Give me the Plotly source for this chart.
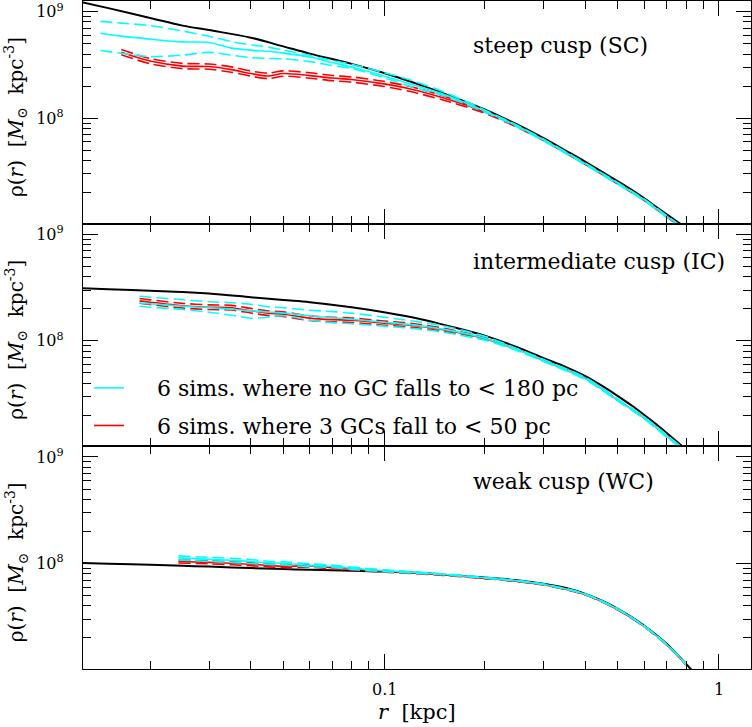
import numpy as np
import plotly.graph_objects as go
from plotly.subplots import make_subplots

FONT = "DejaVu Serif"
CYAN = "#00FFFF"
RED = "#FF0000"

# model profiles (black), log10 rho
r_model = [0.0126, 0.015, 0.02, 0.025, 0.03, 0.04, 0.05, 0.06, 0.08, 0.1, 0.13,
           0.16, 0.2, 0.25, 0.3, 0.35, 0.4, 0.45, 0.5, 0.55, 0.6, 0.65, 0.7, 0.75, 0.8, 0.85]
sc_black = [9.087, 9.033, 8.941, 8.869, 8.827, 8.756, 8.674, 8.606, 8.510, 8.424, 8.306,
            8.203, 8.082, 7.941, 7.812, 7.694, 7.590, 7.493, 7.407, 7.327, 7.247, 7.168,
            7.097, 7.032, 6.971, 6.913]
ic_black = [8.494, 8.485, 8.470, 8.459, 8.444, 8.410, 8.383, 8.363, 8.316, 8.269, 8.201,
            8.130, 8.049, 7.941, 7.838, 7.754, 7.669, 7.575, 7.482, 7.393, 7.304, 7.219,
            7.135, 7.055, 6.980, 6.915]
wc_black = [8.004, 7.997, 7.988, 7.978, 7.971, 7.957, 7.948, 7.941, 7.932, 7.925, 7.910,
            7.889, 7.868, 7.843, 7.810, 7.770, 7.715, 7.649, 7.575, 7.497, 7.415, 7.331,
            7.246, 7.150, 7.058, 6.965]

# steep cusp sims
r_sc = [0.0142, 0.0164, 0.02, 0.025, 0.03, 0.035, 0.04, 0.045, 0.05, 0.06, 0.07, 0.08,
        0.1, 0.12, 0.15, 0.2, 0.25, 0.3, 0.4, 0.5, 0.6, 0.7, 0.77]
sc_cyan_mean = [8.797, 8.770, 8.742, 8.716, 8.711, 8.658, 8.639, 8.628, 8.611, 8.574, 8.522, 8.480,
                8.397, 8.321, 8.227, 8.068, 7.927, 7.796, 7.571, 7.388, 7.233, 7.079, 6.985]
sc_cyan_hi = [8.909, 8.892, 8.869, 8.818, 8.769, 8.719, 8.688, 8.667, 8.641, 8.588, 8.541, 8.505,
              8.428, 8.358, 8.250, 8.077, 7.933, 7.802, 7.577, 7.394, 7.239, 7.085, 6.991]
sc_cyan_lo = [8.635, 8.609, 8.578, 8.592, 8.618, 8.592, 8.569, 8.561, 8.557, 8.531, 8.494, 8.466,
              8.381, 8.297, 8.213, 8.058, 7.918, 7.787, 7.562, 7.379, 7.224, 7.070, 6.976]
r_sc_red = [0.0164, 0.02, 0.025, 0.03, 0.035, 0.04, 0.045, 0.05, 0.06, 0.07, 0.08,
            0.1, 0.12, 0.15, 0.2, 0.25, 0.3, 0.4, 0.5, 0.6, 0.7, 0.77]
sc_red_mean = [8.619, 8.536, 8.489, 8.485, 8.456, 8.419, 8.396, 8.419, 8.400, 8.377, 8.363,
               8.322, 8.274, 8.191, 8.058, 7.922, 7.793, 7.568, 7.385, 7.230, 7.076, 6.982]
sc_red_hi = [8.645, 8.560, 8.515, 8.508, 8.482, 8.443, 8.423, 8.444, 8.426, 8.401, 8.388,
             8.346, 8.297, 8.210, 8.068, 7.928, 7.797, 7.571, 7.388, 7.233, 7.079, 6.985]
sc_red_lo = [8.596, 8.511, 8.465, 8.460, 8.431, 8.395, 8.371, 8.394, 8.375, 8.352, 8.338,
             8.298, 8.250, 8.171, 8.047, 7.915, 7.789, 7.565, 7.382, 7.227, 7.073, 6.979]

# intermediate cusp sims
r_ic = [0.0186, 0.02, 0.025, 0.03, 0.035, 0.04, 0.045, 0.05, 0.06, 0.07, 0.08,
        0.1, 0.12, 0.15, 0.2, 0.25, 0.3, 0.4, 0.5, 0.6, 0.7, 0.77]
ic_cyan_mean = [8.356, 8.349, 8.325, 8.311, 8.297, 8.283, 8.271, 8.262, 8.236, 8.217, 8.203,
                8.175, 8.152, 8.110, 8.025, 7.918, 7.814, 7.646, 7.444, 7.276, 7.107, 7.004]
ic_cyan_hi = [8.419, 8.410, 8.386, 8.367, 8.358, 8.344, 8.321, 8.311, 8.288, 8.274, 8.260,
              8.222, 8.189, 8.142, 8.044, 7.927, 7.824, 7.655, 7.454, 7.285, 7.116, 7.013]
ic_cyan_lo = [8.325, 8.316, 8.294, 8.269, 8.241, 8.213, 8.222, 8.236, 8.194, 8.171, 8.161,
              8.138, 8.119, 8.082, 8.007, 7.908, 7.805, 7.636, 7.435, 7.266, 7.097, 6.994]
ic_red_mean = [8.375, 8.363, 8.330, 8.316, 8.311, 8.283, 8.260, 8.250, 8.213, 8.199, 8.194,
               8.166, 8.147, 8.105, 8.021, 7.918, 7.814, 7.646, 7.444, 7.276, 7.107, 7.004]
ic_red_hi = [8.397, 8.385, 8.352, 8.338, 8.333, 8.305, 8.282, 8.272, 8.235, 8.220, 8.215,
             8.186, 8.165, 8.120, 8.028, 7.922, 7.817, 7.648, 7.446, 7.278, 7.109, 7.006]
ic_red_lo = [8.353, 8.341, 8.308, 8.294, 8.289, 8.261, 8.238, 8.228, 8.191, 8.178, 8.173,
             8.146, 8.129, 8.090, 8.014, 7.914, 7.811, 7.644, 7.442, 7.274, 7.105, 7.002]

# weak cusp sims
r_wc = [0.0243, 0.03, 0.035, 0.04, 0.045, 0.05, 0.06, 0.07, 0.08, 0.1, 0.12, 0.15,
        0.2, 0.25, 0.3, 0.4, 0.5, 0.6, 0.7, 0.8]
wc_cyan_mean = [8.053, 8.039, 8.030, 8.019, 8.007, 8.002, 7.983, 7.974, 7.955, 7.932, 7.918, 7.899,
                7.866, 7.838, 7.805, 7.711, 7.571, 7.411, 7.240, 7.054]
wc_cyan_hi = [8.072, 8.058, 8.049, 8.038, 8.022, 8.017, 7.998, 7.985, 7.966, 7.941, 7.925, 7.903,
              7.870, 7.841, 7.808, 7.714, 7.574, 7.414, 7.243, 7.057]
wc_cyan_lo = [8.034, 8.020, 8.011, 8.000, 7.992, 7.987, 7.969, 7.964, 7.945, 7.923, 7.911, 7.894,
              7.862, 7.835, 7.802, 7.708, 7.568, 7.408, 7.237, 7.051]
wc_red_mean = [8.019, 8.011, 8.002, 7.993, 7.983, 7.974, 7.978, 7.960, 7.950, 7.927, 7.913, 7.894,
               7.861, 7.833, 7.800, 7.707, 7.566, 7.407, 7.236, 7.049]
wc_red_hi = [8.033, 8.025, 8.016, 8.007, 7.997, 7.988, 7.990, 7.972, 7.961, 7.936, 7.920, 7.899,
             7.864, 7.835, 7.802, 7.709, 7.568, 7.409, 7.238, 7.051]
wc_red_lo = [8.005, 7.997, 7.988, 7.979, 7.969, 7.960, 7.966, 7.948, 7.939, 7.918, 7.906, 7.889,
             7.858, 7.831, 7.798, 7.705, 7.564, 7.405, 7.234, 7.047]

panel_labels = ["steep cusp (SC)", "intermediate cusp (IC)", "weak cusp (WC)"]
legend_names = ["6 sims. where no GC falls to < 180 pc", "6 sims. where 3 GCs fall to < 50 pc"]
x_tick_vals = [0.1, 1]
x_tick_text = ["0.1", "1"]

PANELS = [
    dict(black=sc_black, r_cyan=r_sc, cyan=(sc_cyan_mean, sc_cyan_hi, sc_cyan_lo),
         r_red=r_sc_red, red=(sc_red_mean, sc_red_hi, sc_red_lo), label_y=0.80),
    dict(black=ic_black, r_cyan=r_ic, cyan=(ic_cyan_mean, ic_cyan_hi, ic_cyan_lo),
         r_red=r_ic, red=(ic_red_mean, ic_red_hi, ic_red_lo), label_y=0.83),
    dict(black=wc_black, r_cyan=r_wc, cyan=(wc_cyan_mean, wc_cyan_hi, wc_cyan_lo),
         r_red=r_wc, red=(wc_red_mean, wc_red_hi, wc_red_lo), label_y=0.84),
]

DASH = "12px,5px"
PAD = "\u00a0" * 4


def add_band(fig, row, r, curves, color, name, show):
    mean, hi, lo = curves
    for vals in (hi, lo):
        fig.add_trace(
            go.Scatter(x=r, y=10 ** np.array(vals), mode="lines",
                       line=dict(color=color, width=1.6, dash=DASH, shape="spline", smoothing=0.8),
                       showlegend=False, hoverinfo="skip"),
            row=row, col=1,
        )
    fig.add_trace(
        go.Scatter(x=r, y=10 ** np.array(mean), mode="lines", name=name,
                   line=dict(color=color, width=1.6, shape="spline", smoothing=0.8),
                   legendgroup=color, legendrank=1 if color == CYAN else 2,
                   showlegend=show),
        row=row, col=1,
    )


fig = make_subplots(rows=3, cols=1, shared_xaxes=True, vertical_spacing=0)

for i, p in enumerate(PANELS):
    row = i + 1
    fig.add_trace(
        go.Scatter(x=r_model, y=10 ** np.array(p["black"]), mode="lines",
                   line=dict(color="black", width=2, shape="spline"),
                   showlegend=False),
        row=row, col=1,
    )
    add_band(fig, row, p["r_red"], p["red"], RED, PAD + legend_names[1], row == 2)
    add_band(fig, row, p["r_cyan"], p["cyan"], CYAN, PAD + legend_names[0], row == 2)

    yref = "y" if row == 1 else f"y{row}"
    fig.add_annotation(
        text=panel_labels[i], xref="paper", yref=f"{yref} domain",
        x=0.5804, y=p["label_y"], xanchor="left", yanchor="middle",
        showarrow=False, font=dict(family=FONT, size=22, color="black"),
    )
    fig.add_annotation(
        text="\u03c1(<i>r</i>)\u00a0\u00a0[<i>M</i><sub>\u2299</sub>\u00a0\u00a0kpc<sup>-3</sup>]",
        xref="paper", yref=f"{yref} domain", x=-0.1, y=0.48,
        xanchor="center", yanchor="middle", textangle=-90,
        showarrow=False, font=dict(family=FONT, size=20, color="black"),
    )

# x tick labels placed under the bottom panel
for v, t in zip(x_tick_vals, x_tick_text):
    fig.add_annotation(
        text=t, xref="x3", yref="paper", x=np.log10(v), y=-0.0314,
        xanchor="center", yanchor="middle", showarrow=False,
        font=dict(family=FONT, size=16, color="black"),
    )

fig.add_annotation(
    text="<i>r</i>\u00a0\u00a0[kpc]", xref="paper", yref="paper", x=0.5, y=-0.0855,
    xanchor="center", yanchor="bottom", showarrow=False,
    font=dict(family=FONT, size=21, color="black"),
)

x_minor = [k * 10.0 ** e for e in (-2, -1, 0) for k in range(1, 10) if k > 1 or e == 0]
y_minor = [k * 10.0 ** e for e in (7, 8) for k in range(2, 10)]

axis_common = dict(
    showline=True, linecolor="black", linewidth=1.3, mirror="ticks",
    ticks="inside", tickcolor="black", tickwidth=1.3, ticklen=15,
    showgrid=False, zeroline=False,
    tickfont=dict(family=FONT, size=16, color="black"),
)

fig.update_xaxes(
    type="log", range=[np.log10(0.0126), np.log10(1.25)],
    tickvals=x_tick_vals, showticklabels=False,
    minor=dict(tickvals=x_minor, ticks="inside", ticklen=8, tickwidth=1.2,
               tickcolor="black", showgrid=False),
    **axis_common,
)
fig.update_yaxes(
    type="log", range=[7.01, 9.10],
    tickvals=[1e8, 1e9], ticktext=["10<sup>8</sup>", "10<sup>9</sup>"],
    ticklabelstandoff=15,
    minor=dict(tickvals=y_minor, ticks="inside", ticklen=8, tickwidth=1.2,
               tickcolor="black", showgrid=False),
    **axis_common,
)

fig.update_layout(
    width=752, height=727,
    margin=dict(l=83, r=1, t=1, b=58),
    paper_bgcolor="white", plot_bgcolor="white",
    font=dict(family=FONT, size=20, color="black"),
    showlegend=True,
    legend=dict(
        x=0.009, y=0.452, xanchor="left", yanchor="top",
        bgcolor="rgba(0,0,0,0)", font=dict(family=FONT, size=22, color="black"),
        tracegroupgap=6,
    ),
)

fig.write_html(
    "out.html",
    config={"displayModeBar": False},
    post_script="document.body.style.margin='0';",
)
